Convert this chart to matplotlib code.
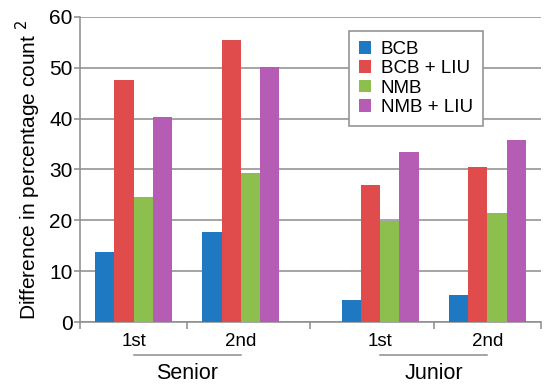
import numpy as np
import matplotlib
matplotlib.use('Agg')
import matplotlib.pyplot as plt
import matplotlib.transforms as mtransforms

plt.rcParams['font.family'] = ['Liberation Sans', 'DejaVu Sans']

# data
years = ['1st', '2nd', '1st', '2nd']
groups = ['Senior', 'Junior']
series_names = ['BCB', 'BCB + LIU', 'NMB', 'NMB + LIU']
bcb = [13.8, 17.7, 4.3, 5.4]
bcb_liu = [47.5, 55.5, 26.9, 30.5]
nmb = [24.6, 29.2, 19.8, 21.4]
nmb_liu = [40.2, 50.2, 33.5, 35.8]
colors = ['#1f78c2', '#e04b4b', '#8cbf4e', '#b55db5']

# group centres (extra gap between Senior and Junior) and separators
centers = np.array([0.5, 1.5, 2.8, 3.8])
separators = [0, 1, 2.15, 3.3, 4.3]
w = 0.18

fig = plt.figure(figsize=(5.5, 3.89), dpi=100)
ax = fig.add_axes([0.1455, 0.172, 0.838, 0.785])

for i, (vals, c, name) in enumerate(zip([bcb, bcb_liu, nmb, nmb_liu], colors, series_names)):
    ax.bar(centers + (i - 1.5) * w, vals, w, color=c, label=name, zorder=3)

ax.set_xlim(0, 4.3)
ax.set_ylim(0, 60)
ax.set_yticks(range(0, 61, 10))
ax.yaxis.grid(True, color='#8c8c8c', lw=1.1, zorder=0)
ax.set_axisbelow(True)
for s in ['top', 'right']:
    ax.spines[s].set_visible(False)
for s in ['left', 'bottom']:
    ax.spines[s].set_color('#8c8c8c')
    ax.spines[s].set_linewidth(1.1)

ax.set_xticks(centers)
ax.set_xticklabels(years)
ax.set_xticks(separators, minor=True)
ax.tick_params(axis='x', which='major', length=0, labelsize=13.5, pad=8)
ax.tick_params(axis='x', which='minor', length=5, color='#8c8c8c', width=1.1)
ax.tick_params(axis='y', length=4, color='#8c8c8c', width=1.1, labelsize=15, pad=1.5)

ax.set_ylabel('Difference in percentage count $^2$', fontsize=15, labelpad=4)

# group labels with underline
trans = mtransforms.blended_transform_factory(ax.transData, ax.transAxes)
for (a, b), g in zip([(centers[0], centers[1]), (centers[2], centers[3])], groups):
    ax.plot([a, b], [-0.108, -0.108], color='#8c8c8c', lw=1.1, transform=trans, clip_on=False)
    ax.text((a + b) / 2, -0.135, g, transform=trans, ha='center', va='top', fontsize=15.5)

leg = ax.legend(loc='upper left', bbox_to_anchor=(0.583, 0.954), fontsize=13.5,
                handlelength=0.65, handleheight=0.65, handletextpad=0.5,
                labelspacing=0.12, borderpad=0.55, borderaxespad=0,
                fancybox=False, framealpha=1)
leg.get_frame().set_edgecolor('#8c8c8c')
leg.get_frame().set_linewidth(1.1)

fig.savefig('out.png', dpi=100)
